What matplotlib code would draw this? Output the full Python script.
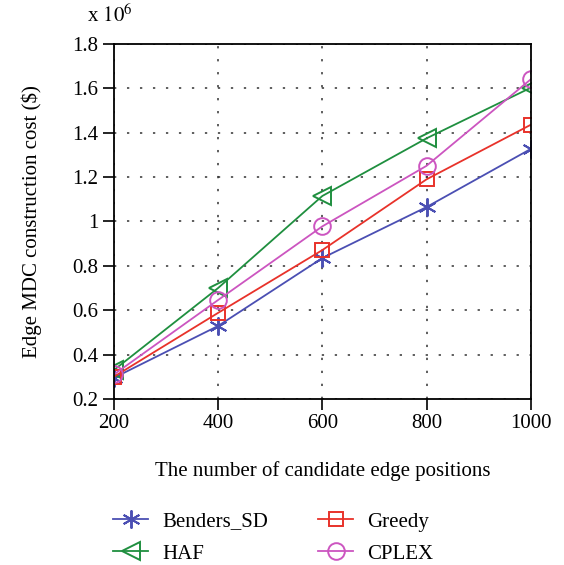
import numpy as np
import matplotlib.pyplot as plt

# candidate edge positions
positions = [200, 400, 600, 800, 1000]

# construction cost, in units of 1e6 $
benders_sd = [0.295, 0.529, 0.835, 1.065, 1.327]
haf = [0.330, 0.700, 1.115, 1.375, 1.603]
greedy = [0.300, 0.588, 0.871, 1.190, 1.436]
cplex = [0.310, 0.646, 0.978, 1.251, 1.641]

y_ticks = [0.2, 0.4, 0.6, 0.8, 1.0, 1.2, 1.4, 1.6, 1.8]

plt.rcParams['font.family'] = ['Liberation Serif', 'DejaVu Serif']
plt.rcParams['font.size'] = 15

fig = plt.figure(figsize=(5.64, 5.65), dpi=100)
ax = fig.add_axes([0.202, 0.294, 0.739, 0.628])

lw = 1.3
ax.plot(positions, benders_sd, color='#4b4fb3', marker=(6, 2, 0), ms=13,
        mew=1.4, lw=lw, label='Benders_SD')
ax.plot(positions, haf, color='#1f8f3f', marker='<', ms=13, mfc='none',
        mew=1.4, lw=lw, label='HAF')
ax.plot(positions, greedy, color='#e8322a', marker='s', ms=10, mfc='none',
        mew=1.4, lw=lw, label='Greedy')
ax.plot(positions, cplex, color='#cc55c0', marker='o', ms=12, mfc='none',
        mew=1.4, lw=lw, label='CPLEX')

ax.set_xlim(200, 1000)
ax.set_ylim(0.2, 1.8)
ax.set_xticks(positions)
ax.set_yticks(y_ticks)
ax.set_yticklabels(['%g' % v for v in y_ticks])
ax.grid(True, color='#333333', linestyle=(0, (1.5, 7)), linewidth=1.1)
ax.tick_params(direction='out', length=8, width=1.2, pad=3, top=False, right=False)
for s in ax.spines.values():
    s.set_linewidth(1.3)

ax.set_ylabel('Edge MDC construction cost ($)', labelpad=22)
ax.set_xlabel('The number of candidate edge positions', labelpad=20)
fig.text(0.155, 0.952, r'x $10^6$', fontsize=15, va='bottom',
         math_fontfamily='stix')

fig.legend(loc='upper left', bbox_to_anchor=(113 / 564, 1 - 512 / 565),
           ncol=2, frameon=False, borderpad=0, borderaxespad=0,
           columnspacing=2.4, handlelength=1.7, handletextpad=0.65,
           labelspacing=0.6)

fig.savefig('out.png', dpi=100)
